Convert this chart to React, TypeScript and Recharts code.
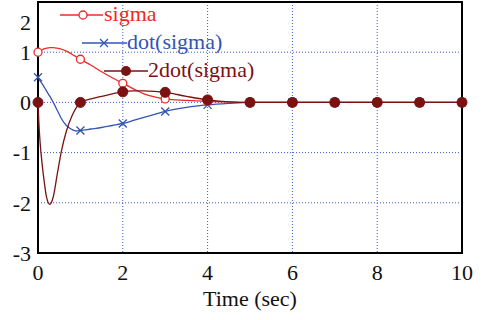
import React from 'react';
import { LineChart, Line, XAxis, YAxis, CartesianGrid, ReferenceArea } from 'recharts';

const timeSec = [0, 0.02, 0.05, 0.1, 0.15, 0.2, 0.28, 0.36, 0.45, 0.55, 0.67, 0.8, 0.9, 1, 1.25, 1.5, 1.75, 2, 2.25, 2.5, 2.75, 3, 3.5, 4, 4.5, 5, 6, 7, 8, 9, 10];
const sigma = [1.0, 1.01, 1.03, 1.05, 1.07, 1.08, 1.09, 1.09, 1.08, 1.06, 1.02, 0.96, 0.91, 0.86, 0.74, 0.61, 0.49, 0.38, 0.27, 0.17, 0.11, 0.07, 0.04, 0.02, 0.01, 0, 0, 0, 0, 0, 0];
const dotSigma = [0.5, 0.47, 0.43, 0.37, 0.3, 0.23, 0.12, 0.0, -0.15, -0.32, -0.46, -0.54, -0.57, -0.56, -0.53, -0.5, -0.46, -0.42, -0.36, -0.3, -0.24, -0.18, -0.1, -0.05, -0.02, 0, 0, 0, 0, 0, 0];
const ddotSigma = [0, -0.4, -0.8, -1.25, -1.6, -1.88, -2.03, -1.88, -1.45, -0.98, -0.57, -0.27, -0.11, 0, 0.07, 0.12, 0.17, 0.21, 0.23, 0.23, 0.22, 0.2, 0.12, 0.05, 0.01, 0, 0, 0, 0, 0, 0];

const xTicks = [0, 2, 4, 6, 8, 10];
const yTicks = [-3, -2, -1, 0, 1, 2];

const RED = '#f02828';
const BLUE = '#3454b4';
const BROWN = '#7a1212';
const FONT = "'Liberation Serif', 'Times New Roman', serif";
const textStyle = { fontFamily: FONT, fontSize: 22 };

const data = timeSec.map((t, i) => ({ t, sigma: sigma[i], dot: dotSigma[i], ddot: ddotSigma[i] }));

const isMark = (p: any) => p && Number.isInteger(p.t);

const CircleDot = (props: any) => {
  const { cx, cy, payload } = props;
  if (!isMark(payload)) return <g key={props.key} />;
  return <circle key={props.key} cx={cx} cy={cy} r={4} fill="#fff" stroke={RED} strokeWidth={1.3} />;
};
const CrossDot = (props: any) => {
  const { cx, cy, payload } = props;
  if (!isMark(payload)) return <g key={props.key} />;
  const s = 4;
  return (
    <g key={props.key} stroke={BLUE} strokeWidth={1.3}>
      <line x1={cx - s} y1={cy - s} x2={cx + s} y2={cy + s} />
      <line x1={cx - s} y1={cy + s} x2={cx + s} y2={cy - s} />
    </g>
  );
};
const FilledDot = (props: any) => {
  const { cx, cy, payload } = props;
  if (!isMark(payload)) return <g key={props.key} />;
  return <circle key={props.key} cx={cx} cy={cy} r={5} fill={BROWN} stroke={BROWN} />;
};

const YTick = (props: any) => {
  const { x, y, payload } = props;
  const yy = payload.value === 2 ? y + 13 : y;
  return (
    <text x={x} y={yy} dy="0.35em" textAnchor="end" style={textStyle} fill="#111">
      {payload.value}
    </text>
  );
};

const XTick = (props: any) => {
  const { x, y, payload } = props;
  return (
    <text x={x} y={y} dy="0.71em" textAnchor="middle" style={textStyle} fill="#111">
      {payload.value}
    </text>
  );
};

const XLabel = (props: any) => {
  const vb = props.viewBox || {};
  const cx = (vb.x || 0) + (vb.width || 0) / 2;
  return (
    <text x={cx} y={306} textAnchor="middle" style={textStyle} fill="#111">
      Time (sec)
    </text>
  );
};

const LegendBox = () => (
  <svg width={300} height={90} style={{ position: 'absolute', left: 0, top: 0, overflow: 'visible' }}>
    <g style={textStyle}>
      <line x1={60} y1={15} x2={103} y2={15} stroke={RED} strokeWidth={1.3} />
      <circle cx={83} cy={15} r={4} fill="#fff" stroke={RED} strokeWidth={1.3} />
      <text x={104} y={21} fill={RED}>sigma</text>
      <line x1={82} y1={43} x2={127} y2={43} stroke={BLUE} strokeWidth={1.3} />
      <g stroke={BLUE} strokeWidth={1.3}>
        <line x1={100} y1={39} x2={108} y2={47} />
        <line x1={100} y1={47} x2={108} y2={39} />
      </g>
      <text x={127} y={49} fill={BLUE}>dot(sigma)</text>
      <line x1={104} y1={71} x2={148} y2={71} stroke={BROWN} strokeWidth={1.3} />
      <circle cx={126} cy={71} r={5} fill={BROWN} />
      <text x={148} y={77} fill={BROWN}>2dot(sigma)</text>
    </g>
  </svg>
);

export default function App() {
  return (
    <div style={{ position: 'absolute', left: 0, top: 0, width: 482, height: 320, background: '#fff' }}>
      <LineChart width={482} height={320} data={data} margin={{ top: 2, right: 20, left: 0, bottom: 0 }}>
        <CartesianGrid stroke="#3a5cc8" strokeDasharray="1 2" strokeWidth={1} />
        <XAxis
          dataKey="t"
          type="number"
          domain={[0, 10]}
          ticks={xTicks}
          height={67}
          tickLine={false}
          axisLine={false}
          tickSize={0}
          tickMargin={11}
          tick={<XTick />}
          label={<XLabel />}
        />
        <YAxis
          type="number"
          domain={[-3, 2]}
          ticks={yTicks}
          width={38}
          tickLine={false}
          axisLine={false}
          tickSize={0}
          tickMargin={7}
          tick={<YTick />}
        />
        <ReferenceArea x1={0} x2={10} y1={-3} y2={2} fill="none" stroke="#000" strokeWidth={2} ifOverflow="visible" />
        <Line type="monotone" dataKey="sigma" stroke={RED} strokeWidth={1.3} dot={<CircleDot />} isAnimationActive={false} />
        <Line type="monotone" dataKey="dot" stroke={BLUE} strokeWidth={1.3} dot={<CrossDot />} isAnimationActive={false} />
        <Line type="monotone" dataKey="ddot" stroke={BROWN} strokeWidth={1.3} dot={<FilledDot />} isAnimationActive={false} />
      </LineChart>
      <LegendBox />
    </div>
  );
}
